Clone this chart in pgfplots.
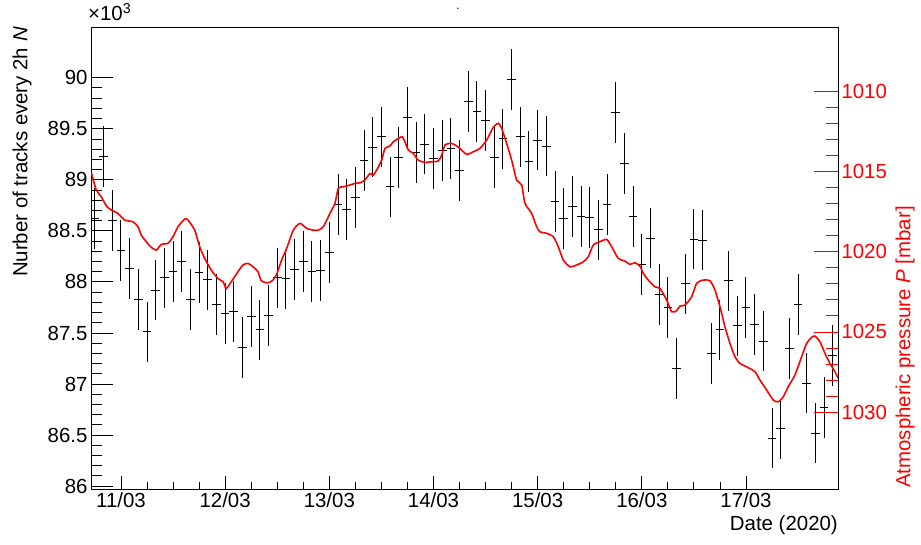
\documentclass[border=0pt]{standalone}
\usepackage{fontspec}
\setmainfont{Liberation Sans}
\usepackage{pgfplots}
\pgfplotsset{compat=1.18}
\usepackage{pgfplotstable}

% hours since 11/03 00:00, tracks per 2h (x10^3), stat. error
\pgfplotstableread{
h N e
-6 88.62 0.297
-4 89.23 0.297
-2 88.60 0.297
0 88.31 0.297
2 88.13 0.297
4 87.83 0.297
6 87.51 0.297
8 87.92 0.297
10 88.04 0.297
12 88.10 0.297
14 88.20 0.297
16 87.83 0.297
18 88.09 0.297
20 88.02 0.297
22 87.78 0.297
24 87.69 0.297
26 87.71 0.297
28 87.36 0.297
30 87.66 0.297
32 87.53 0.297
34 87.67 0.297
36 88.04 0.297
38 88.03 0.297
40 88.12 0.297
42 88.20 0.297
44 88.10 0.297
46 88.11 0.297
48 88.29 0.297
50 88.76 0.297
52 88.71 0.297
54 88.83 0.297
56 89.19 0.297
58 89.32 0.297
60 89.42 0.297
62 88.93 0.297
64 89.22 0.297
66 89.61 0.297
68 89.27 0.297
70 89.35 0.297
72 89.21 0.297
74 89.29 0.297
76 89.31 0.297
78 89.09 0.297
80 89.77 0.297
82 89.67 0.297
84 89.58 0.297
86 89.22 0.297
88 89.40 0.297
90 89.98 0.297
92 89.42 0.297
94 89.18 0.297
96 89.39 0.297
98 89.33 0.297
100 88.79 0.297
102 88.62 0.297
104 88.74 0.297
106 88.64 0.297
108 88.63 0.297
110 88.51 0.297
112 88.76 0.297
114 89.66 0.297
116 89.16 0.297
118 88.64 0.297
120 88.17 0.297
122 88.43 0.297
124 87.88 0.297
126 87.75 0.297
128 87.15 0.297
130 87.98 0.297
132 88.42 0.297
134 88.41 0.297
136 87.30 0.297
138 87.53 0.297
140 88.01 0.297
142 87.57 0.297
144 87.75 0.297
146 87.58 0.297
148 87.42 0.297
150 86.47 0.297
152 86.56 0.297
154 87.35 0.297
156 87.78 0.297
158 87.01 0.297
160 86.52 0.297
162 86.77 0.297
164 87.28 0.297
}\tracks

% pressure in mbar
\pgfplotstableread{
h P
-6.84 1015.06
-5.69 1016.16
-4.54 1016.58
-3.38 1017.14
-2.23 1017.41
-0.69 1017.62
0.85 1018.03
2.76 1018.14
3.92 1018.45
4.68 1018.97
5.83 1019.38
6.98 1019.73
8.14 1019.90
9.29 1019.55
10.83 1019.48
11.98 1019.07
13.13 1018.45
14.67 1017.97
15.44 1018.03
16.98 1018.66
18.13 1019.69
19.28 1020.42
20.81 1021.15
22.35 1021.67
23.50 1021.87
24.26 1022.29
25.41 1021.87
26.96 1021.25
28.11 1020.83
29.26 1020.73
30.41 1020.94
31.56 1021.25
32.33 1021.81
33.87 1021.94
35.02 1021.77
35.87 1021.40
37.02 1020.52
38.17 1019.80
39.70 1018.66
41.24 1018.24
42.78 1018.55
44.31 1018.66
45.46 1018.66
46.61 1018.45
48.15 1017.62
49.30 1016.99
50.07 1016.06
51.22 1015.96
52.76 1015.85
53.91 1015.75
55.06 1015.71
56.21 1015.54
57.37 1015.13
58.13 1015.23
58.90 1014.92
60.06 1014.30
60.82 1013.57
61.97 1013.42
62.74 1013.16
63.89 1012.95
64.81 1012.84
65.43 1013.16
66.19 1013.67
67.34 1013.88
68.49 1014.30
70.04 1014.44
71.58 1014.40
73.10 1014.36
73.89 1013.99
74.65 1013.36
76.19 1013.26
77.34 1013.42
78.10 1013.57
79.65 1013.94
81.17 1013.78
82.71 1013.57
84.25 1013.05
85.77 1012.26
86.93 1012.01
87.71 1012.32
88.86 1013.26
90.01 1014.30
91.16 1015.54
92.32 1015.85
93.08 1016.99
94.62 1017.62
95.77 1018.45
96.53 1018.76
98.08 1018.86
99.60 1019.07
100.75 1019.69
101.90 1020.52
103.45 1020.94
104.99 1020.83
106.51 1020.63
107.66 1020.32
108.81 1019.59
110.36 1019.38
111.90 1019.24
113.05 1019.69
114.57 1020.42
116.12 1020.59
117.27 1020.79
118.42 1020.69
119.57 1020.90
120.33 1021.35
121.48 1021.77
123.03 1022.19
124.18 1022.29
125.72 1023.01
126.87 1023.74
128.03 1023.68
128.79 1023.39
129.94 1023.33
131.48 1022.81
132.63 1021.97
134.16 1021.77
135.70 1021.81
136.85 1022.39
138.00 1023.43
139.16 1024.68
140.31 1025.71
141.46 1026.54
142.61 1026.96
144.15 1027.17
146.07 1027.48
147.22 1028.00
148.76 1028.62
150.28 1029.24
151.43 1029.35
152.58 1029.04
153.74 1028.41
155.28 1027.68
156.82 1026.54
157.98 1025.71
159.13 1025.34
159.89 1025.26
161.04 1025.61
162.19 1026.33
163.34 1026.96
164.49 1027.48
165.26 1027.89
}\pressure

\newcommand{\lbl}{\fontsize{20.5}{24}\selectfont}
\pgfplotsset{
  base/.style={
    scale only axis, width=747bp, height=462bp,
    at={(0,0)}, anchor=south west,
    xmin=-6.91, xmax=165.2,
    tick align=inside,
    tick label style={font=\lbl},
    axis line style={line width=0.9bp},
    /pgf/number format/assume math mode=true,
    /pgf/number format/1000 sep={},
  },
}

\begin{document}
\begin{tikzpicture}
% frame and date ticks
\begin{axis}[base,
  ymin=85.972, ymax=90.497, ytick=\empty,
  xtick={0,24,...,144}, minor x tick num=3, xtick pos=bottom,
  xticklabels={11/03,12/03,13/03,14/03,15/03,16/03,17/03},
  every tick/.style={black, line width=0.9bp},
  major tick length=13bp, minor tick length=7bp]
\end{axis}
% track counts
\begin{axis}[base,
  ymin=85.972, ymax=90.497,
  ytick={86,86.5,...,90}, minor y tick num=4, ytick pos=left,
  xtick=\empty,
  every tick/.style={black, line width=0.9bp},
  major tick length=22bp, minor tick length=11bp,
  yticklabel style={/pgf/number format/fixed}]
\addplot[draw=none, mark=none,
  error bars/.cd, x dir=both, x fixed=1, y dir=both, y explicit,
  error mark=none, error bar style={black, line width=1bp}]
  table[x=h, y=N, y error=e] {\tracks};
\end{axis}
% pressure
\begin{axis}[base,
  ymin=1006.01, ymax=1034.78, y dir=reverse,
  axis x line=none, axis y line*=right,
  ytick={1010,1015,...,1030}, minor y tick num=4,
  every tick/.style={red, line width=0.9bp},
  major tick length=24bp, minor tick length=12bp,
  yticklabel style={red}]
\addplot[red, line width=1.6bp, smooth, tension=0.4] table[x=h, y=P] {\pressure};
\end{axis}
\node[rotate=90, anchor=east, inner sep=0, font=\lbl] at (-69bp,462bp) {Nurber of tracks every 2h \textit{N}};
\node[rotate=90, anchor=west, inner sep=0, font=\lbl, red] at (814bp,1bp) {Atmospheric pressure \textit{P} [mbar]};
\node[anchor=base west, inner sep=0, font=\lbl] at (-3bp,468bp) {×10\textsuperscript{3}};
\node[anchor=base east, inner sep=0, font=\lbl] at (747bp,-41bp) {Date (2020)};
\node[anchor=base, inner sep=0, font=\fontsize{12}{14}\selectfont] at (367bp,479bp) {.};
\pgfresetboundingbox
\path (-91bp,-56bp) rectangle (830bp,489bp);
\end{tikzpicture}
\end{document}
